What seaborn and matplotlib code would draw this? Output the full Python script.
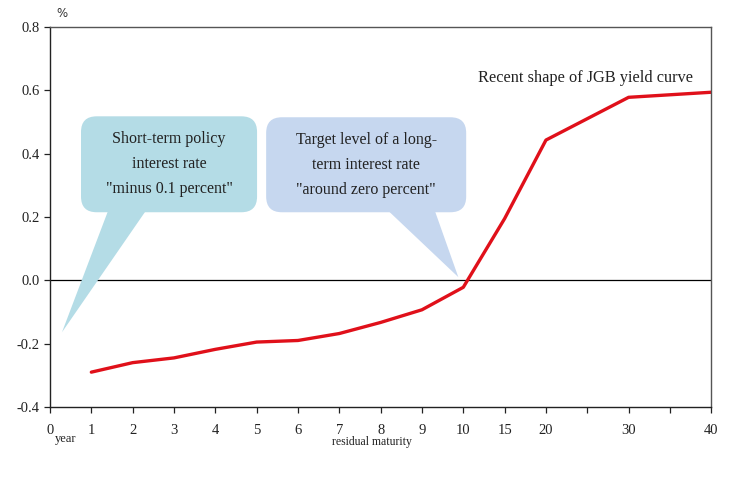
import pandas as pd
import seaborn as sns
import matplotlib.pyplot as plt
from matplotlib.patches import FancyBboxPatch, Polygon

# Tick positions on the x axis (evenly spaced categories)
tick_years = [0, 1, 2, 3, 4, 5, 6, 7, 8, 9, 10, 15, 20, 25, 30, 35, 40]
tick_labels = ['0', '1', '2', '3', '4', '5', '6', '7', '8', '9', '10', '15', '20', '', '30', '', '40']

# JGB yield curve
maturity = [1, 2, 3, 4, 5, 6, 7, 8, 9, 10, 15, 20, 30, 40]
yield_pct = [-0.29, -0.26, -0.245, -0.218, -0.195, -0.19, -0.168, -0.133, -0.093, -0.022,
             0.195, 0.443, 0.578, 0.594]

df = pd.DataFrame({'maturity': maturity, 'yield': yield_pct})
df['pos'] = df['maturity'].map({y: i for i, y in enumerate(tick_years)})

sns.set_style('white')
plt.rcParams['font.family'] = ['Liberation Serif', 'DejaVu Serif']

fig = plt.figure(figsize=(7.43, 4.86), dpi=100)
ax = fig.add_axes([0.0673, 0.1626, 0.8900, 0.7818])

sns.lineplot(data=df, x='pos', y='yield', color='#e0101a', linewidth=2.4, ax=ax)
ax.axhline(0, color='black', linewidth=0.9, zorder=1)

ax.set_xlim(0, len(tick_years) - 1)
ax.set_ylim(-0.4, 0.8)
ax.set_xticks(range(len(tick_years)))
ax.set_xticklabels(tick_labels)
ax.set_yticks([-0.4, -0.2, 0.0, 0.2, 0.4, 0.6, 0.8])
ax.set_yticklabels(['-0.4', '-0.2', '0.0', '0.2', '0.4', '0.6', '0.8'])
ax.tick_params(axis='both', direction='out', length=4, width=0.9, labelsize=10.5,
               colors='#222222', bottom=True, left=True)
ax.tick_params(axis='x', pad=8)
ax.set_xlabel('')
ax.set_ylabel('')
for sp in ax.spines.values():
    sp.set_color('#555555')
    sp.set_linewidth(1.0)
ax.spines['left'].set_color('#222222')
ax.spines['bottom'].set_color('#222222')

# Text labels
ax.text(0.018, 1.035, '%', transform=ax.transAxes, fontsize=8.5, family='DejaVu Sans',
        color='#333333', ha='center', va='center')
fig.text(55 / 743, 1 - 439 / 486, 'year', fontsize=9, ha='left', va='center', color='#222222')
fig.text(372 / 743, 1 - 442 / 486, 'residual maturity', fontsize=8.5, ha='center', va='center',
         color='#222222')
ax.text(15.55, 0.64, 'Recent shape of JGB yield curve', fontsize=11.8, ha='right',
        va='center', color='#222222')

# Callout bubbles (x in category positions, y in percent)
asp = (1.2 / 380) / (16 / 661)


def bubble(x0, x1, y0, y1, base0, base1, tip, color, text):
    ax.add_patch(Polygon([(base0, y0 + 0.02), (base1, y0 + 0.02), tip], closed=True,
                         facecolor=color, edgecolor='none', zorder=2))
    ax.add_patch(FancyBboxPatch((x0, y0), x1 - x0, y1 - y0,
                                boxstyle='round,pad=0,rounding_size=0.38',
                                mutation_aspect=asp, facecolor=color, edgecolor='none',
                                zorder=2))
    ax.text((x0 + x1) / 2, (y0 + y1) / 2, text, ha='center', va='center', fontsize=11.5,
            linespacing=1.75, color='#222222', zorder=3)


bubble(0.75, 5.01, 0.215, 0.518, 1.45, 2.4, (0.29, -0.164), '#b4dce6',
       'Short-term policy\ninterest rate\n"minus 0.1 percent"')
bubble(5.23, 10.07, 0.215, 0.515, 8.06, 9.27, (9.88, 0.01), '#c6d7ef',
       'Target level of a long-\nterm interest rate\n"around zero percent"')

fig.savefig('out.png', dpi=100)
